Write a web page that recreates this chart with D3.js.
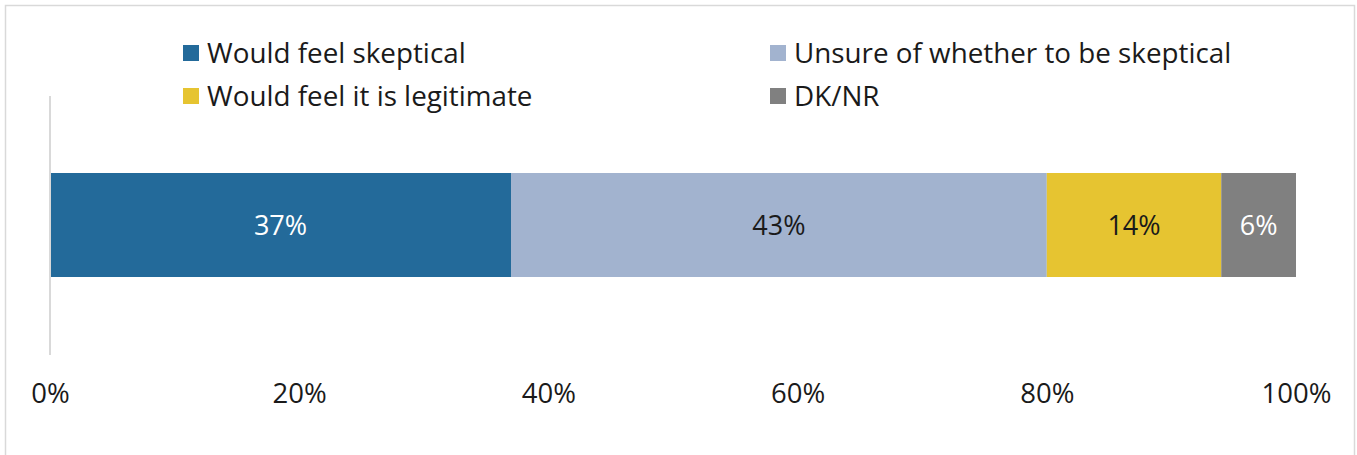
<!DOCTYPE html>
<html>
<head>
	<meta charset="utf-8">
	<title>Stacked bar</title>
	<script src="https://d3js.org/d3.v7.min.js"></script>
	<style>
		body { margin: 0; background: #fff; }
		text { font-family: "Open Sans", Lato, sans-serif; }
		.axis path, .axis line { display: none; }
		.axis text { font-size: 27.5px; fill: #1a1a1a; font-family: "Open Sans", sans-serif; }
	</style>
</head>
<body>
<svg id="chart"></svg>
<script>
var categories = ['Would feel skeptical', 'Unsure of whether to be skeptical', 'Would feel it is legitimate', 'DK/NR'];
var values = [37, 43, 14, 6];
var colors = ['#236a9a', '#a2b3cf', '#e6c431', '#808080'];
var labelColors = ['#ffffff', '#1a1a1a', '#1a1a1a', '#ffffff'];
var ticks = [0, 20, 40, 60, 80, 100];

(function () {
	var _W = 1357, _H = 455,
		_margin = {top: 96, left: 50, right: 61},
		_width = _W - _margin.left - _margin.right,
		_x_scale = d3.scaleLinear([0, 100], [0, _width]),
		_y_scale = d3.scaleBand(['row'], [77, 181]).padding(0),
		_svg = d3.select('#chart').attr('width', _W).attr('height', _H);

	// outer frame
	_svg.append('rect')
		.attr('x', 5.5).attr('y', 5.5)
		.attr('width', 1349).attr('height', 470)
		.attr('fill', 'none').attr('stroke', '#d9d9d9').attr('stroke-width', 1.5);

	var g = _svg.append('g')
		.attr('transform', 'translate(' + _margin.left + ',' + _margin.top + ')');

	// stack
	var data = [], acc = 0;
	values.forEach(function (v, i) {
		data.push({name: categories[i], v: v, x0: acc, x1: acc + v, i: i});
		acc += v;
	});

	g.selectAll('rect.seg').data(data).enter()
		.append('rect')
		.attr('class', 'seg')
		.attr('x', function (d) { return _x_scale(d.x0); })
		.attr('width', function (d) { return _x_scale(d.x1) - _x_scale(d.x0); })
		.attr('y', _y_scale('row'))
		.attr('height', _y_scale.bandwidth())
		.attr('fill', function (d) { return colors[d.i]; });

	g.selectAll('text.lbl').data(data).enter()
		.append('text')
		.attr('class', 'lbl')
		.attr('x', function (d) { return (_x_scale(d.x0) + _x_scale(d.x1)) / 2; })
		.attr('y', _y_scale('row') + _y_scale.bandwidth() / 2 + 1)
		.attr('dy', '0.35em')
		.attr('text-anchor', 'middle')
		.style('font-size', '27px')
		.style('fill', function (d) { return labelColors[d.i]; })
		.text(function (d) { return d.v + '%'; });

	// vertical axis line
	g.append('line')
		.attr('x1', 0).attr('x2', 0)
		.attr('y1', 0).attr('y2', 259)
		.attr('stroke', '#d9d9d9').attr('stroke-width', 2);

	// X axis
	g.append('g')
		.attr('class', 'axis')
		.attr('transform', 'translate(0,' + 284 + ')')
		.call(d3.axisBottom(_x_scale).tickValues(ticks).tickSize(0)
			.tickFormat(function (d) { return d + '%'; }));

	// legend
	var legend = _svg.append('g');
	var lx = [183, 770], ly = [45, 88];
	var order = [0, 1, 2, 3];
	order.forEach(function (k, n) {
		var col = n % 2, row = Math.floor(n / 2);
		var item = legend.append('g')
			.attr('transform', 'translate(' + lx[col] + ',' + ly[row] + ')');
		item.append('rect')
			.attr('width', 16).attr('height', 16)
			.attr('fill', colors[k]);
		item.append('text')
			.attr('x', 24).attr('y', 8)
			.attr('dy', '0.35em')
			.style('font-size', '27.8px')
			.style('fill', '#1a1a1a')
			.text(categories[k]);
	});
}());
</script>
</body>
</html>
